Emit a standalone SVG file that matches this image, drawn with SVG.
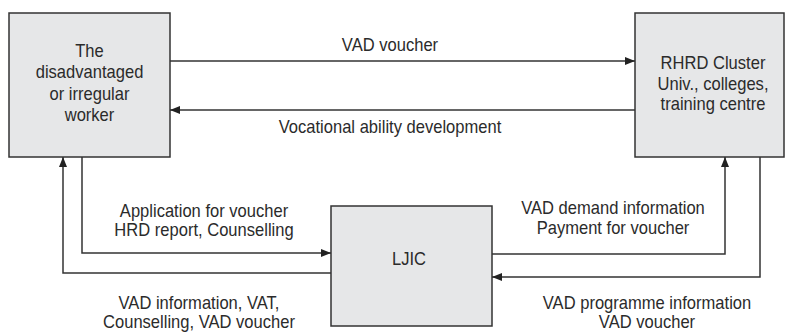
<svg xmlns="http://www.w3.org/2000/svg" width="785" height="333" viewBox="0 0 785 333">
<style>
.box{fill:#e6e7e8;stroke:#333;stroke-width:1.5}
.t{font-family:"Liberation Sans",Arial,sans-serif;font-size:18px;fill:#2b2b2b;text-anchor:middle}
.c{fill:none;stroke:#333;stroke-width:1.5}
</style>
<defs>
<marker id="ah" viewBox="0 0 10 8" refX="10" refY="4" markerWidth="10" markerHeight="8" markerUnits="userSpaceOnUse" orient="auto">
<path d="M0,0 L10,4 L0,8 Z" fill="#222"/>
</marker>
</defs>
<rect width="785" height="333" fill="#fff"/>
<g id="worker">
<rect class="box" x="9" y="13" width="161" height="144"/>
<text class="t" transform="matrix(0.92 0 0 1 89.5 57)">The</text>
<text class="t" transform="matrix(0.92 0 0 1 89.5 78)">disadvantaged</text>
<text class="t" transform="matrix(0.92 0 0 1 89.5 100)">or irregular</text>
<text class="t" transform="matrix(0.92 0 0 1 89.5 121)">worker</text>
</g>
<g id="rhrd">
<rect class="box" x="635" y="13" width="149" height="144"/>
<text class="t" transform="matrix(0.92 0 0 1 713 69)">RHRD Cluster</text>
<text class="t" transform="matrix(0.92 0 0 1 713 90)">Univ., colleges,</text>
<text class="t" transform="matrix(0.92 0 0 1 713 110)">training centre</text>
</g>
<g id="ljic">
<rect class="box" x="331" y="206" width="161" height="120"/>
<text class="t" transform="matrix(0.92 0 0 1 409 265)">LJIC</text>
</g>
<g id="connectors">
<path class="c" d="M170,61 H635" marker-end="url(#ah)"/>
<path class="c" d="M635,110 H170" marker-end="url(#ah)"/>
<path class="c" d="M82,157 V253 H331" marker-end="url(#ah)"/>
<path class="c" d="M331,273 H63 V157" marker-end="url(#ah)"/>
<path class="c" d="M492,254 H725 V157" marker-end="url(#ah)"/>
<path class="c" d="M760,157 V277 H492" marker-end="url(#ah)"/>
<text class="t" transform="matrix(0.92 0 0 1 390 51)">VAD voucher</text>
<text class="t" transform="matrix(0.92 0 0 1 390 133)">Vocational ability development</text>
<text class="t" transform="matrix(0.92 0 0 1 204 217)">Application for voucher</text>
<text class="t" transform="matrix(0.92 0 0 1 204 236)">HRD report, Counselling</text>
<text class="t" transform="matrix(0.92 0 0 1 613 214)">VAD demand information</text>
<text class="t" transform="matrix(0.92 0 0 1 613 234)">Payment for voucher</text>
<text class="t" transform="matrix(0.92 0 0 1 199 309)">VAD information, VAT,</text>
<text class="t" transform="matrix(0.92 0 0 1 199 328)">Counselling, VAD voucher</text>
<text class="t" transform="matrix(0.92 0 0 1 647 309)">VAD programme information</text>
<text class="t" transform="matrix(0.92 0 0 1 647 328)">VAD voucher</text>
</g>
</svg>
